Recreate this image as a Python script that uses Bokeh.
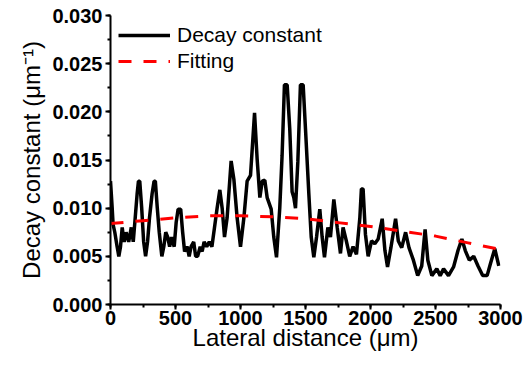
from bokeh.plotting import figure
from bokeh.models import SingleIntervalTicker, PrintfTickFormatter, Legend, LegendItem, Range1d
from bokeh.embed import file_html
from bokeh.resources import INLINE

# Measured decay constant (black line)
dist = [0, 13, 20, 33, 51, 64, 77, 90, 105, 120, 140, 160, 175, 190, 205, 215, 225, 240,
        255, 270, 285, 300, 320, 335, 345, 360, 375, 395, 410, 425, 440, 455, 470, 490,
        505, 520, 540, 555, 570, 590, 605, 620, 640, 655, 670, 690, 705, 720, 740, 760,
        780, 800, 820, 841, 859, 877, 897, 928, 949, 974, 1000, 1026, 1051, 1077, 1108,
        1128, 1149, 1167, 1187, 1205, 1236, 1256, 1277, 1302, 1320, 1338, 1359, 1379,
        1397, 1410, 1423, 1441, 1461, 1482, 1500, 1526, 1544, 1564, 1585, 1610, 1628,
        1646, 1672, 1692, 1718, 1744, 1769, 1789, 1814, 1840, 1866, 1892, 1918, 1930,
        1943, 1961, 1982, 2008, 2033, 2059, 2090, 2111, 2131, 2157, 2193, 2214, 2240,
        2270, 2296, 2330, 2363, 2394, 2420, 2441, 2472, 2510, 2536, 2562, 2600, 2639,
        2673, 2703, 2729, 2760, 2794, 2827, 2863, 2897, 2922, 2956, 2987]
decay = [0.0128, 0.0100, 0.0083, 0.0075, 0.0060, 0.0050, 0.0060, 0.0080, 0.0065, 0.0075,
         0.0065, 0.0080, 0.0065, 0.0090, 0.0115, 0.0128, 0.0128, 0.0100, 0.0065, 0.0050,
         0.0065, 0.0090, 0.0115, 0.0128, 0.0128, 0.0100, 0.0075, 0.0050, 0.0060, 0.0075,
         0.0070, 0.0060, 0.0070, 0.0060, 0.0085, 0.0099, 0.0099, 0.0075, 0.0055, 0.0060,
         0.0050, 0.0060, 0.0065, 0.0050, 0.0050, 0.0060, 0.0055, 0.0065, 0.0060, 0.0065,
         0.0060, 0.0080, 0.0100, 0.0119, 0.0100, 0.0070, 0.0090, 0.0149, 0.0130, 0.0090,
         0.0060, 0.0090, 0.0128, 0.0134, 0.0199, 0.0151, 0.0111, 0.0128, 0.0129, 0.0111,
         0.0099, 0.0070, 0.0049, 0.0100, 0.0155, 0.0228, 0.0228, 0.0182, 0.0117, 0.0111,
         0.0100, 0.0148, 0.0228, 0.0228, 0.0182, 0.0114, 0.0070, 0.0049, 0.0070, 0.0099,
         0.0070, 0.0049, 0.0080, 0.0070, 0.0109, 0.0080, 0.0053, 0.0080, 0.0066, 0.0050,
         0.0060, 0.0052, 0.0090, 0.0120, 0.0120, 0.0073, 0.0050, 0.0066, 0.0063, 0.0068,
         0.0089, 0.0056, 0.0039, 0.0059, 0.0089, 0.0066, 0.0059, 0.0075, 0.0059, 0.0046,
         0.0030, 0.0040, 0.0078, 0.0046, 0.0030, 0.0037, 0.0030, 0.0037, 0.0030, 0.0039,
         0.0056, 0.0068, 0.0056, 0.0046, 0.0050, 0.0040, 0.0030, 0.0030, 0.0042, 0.0058,
         0.0040]

# Fitting curve (red dashed)
fit_x = [0, 250, 500, 750, 1000, 1250, 1500, 1750, 2000, 2250, 2500, 2750, 3000]
fit_y = [0.0084, 0.0087, 0.0090, 0.0092, 0.0092, 0.0091, 0.0089, 0.0085, 0.0081,
         0.0076, 0.0071, 0.0064, 0.0057]

legend_labels = ["Decay constant", "Fitting"]

FONT = "Liberation Sans"

p = figure(width=531, height=369, output_backend="svg", toolbar_location=None,
           x_range=Range1d(0, 3000), y_range=Range1d(0, 0.030),
           min_border_left=110, min_border_right=31, min_border_top=15, min_border_bottom=65)
p.outline_line_color = None
p.xgrid.visible = False
p.ygrid.visible = False
p.background_fill_color = "white"
p.border_fill_color = "white"

r1 = p.line(dist, decay, line_color="black", line_width=3.5)
r2 = p.line(fit_x, fit_y, line_color="#ff0000", line_width=3, line_dash="13 12")

legend = Legend(items=[LegendItem(label=legend_labels[0], renderers=[r1]),
                       LegendItem(label=legend_labels[1], renderers=[r2])],
                location="top_left", border_line_color=None, background_fill_alpha=0,
                label_text_font=FONT, label_text_font_size="21px", label_text_color="black",
                glyph_width=52, glyph_height=20, label_standoff=7,
                spacing=2, padding=10, margin=8)
p.add_layout(legend)

for ax in (p.xaxis[0], p.yaxis[0]):
    ax.axis_line_width = 2
    ax.axis_line_color = "black"
    ax.major_tick_line_width = 2
    ax.minor_tick_line_width = 2
    ax.major_tick_line_color = "black"
    ax.minor_tick_line_color = "black"
    ax.major_tick_out = 5
    ax.major_tick_in = 0
    ax.minor_tick_out = 3
    ax.minor_tick_in = 0
    ax.major_label_text_font = FONT
    ax.major_label_text_font_style = "bold"
    ax.major_label_text_font_size = "20px"
    ax.major_label_text_color = "black"
    ax.axis_label_text_font = FONT
    ax.axis_label_text_font_style = "normal"
    ax.axis_label_text_font_size = "24px"
    ax.axis_label_text_color = "black"

p.xaxis[0].ticker = SingleIntervalTicker(interval=500, num_minor_ticks=2)
p.yaxis[0].ticker = SingleIntervalTicker(interval=0.005, num_minor_ticks=2)
p.yaxis[0].formatter = PrintfTickFormatter(format="%.3f")
p.xaxis[0].axis_label = "Lateral distance (μm)"
p.yaxis[0].axis_label = "Decay constant (μm⁻¹)"
p.xaxis[0].major_label_standoff = 1
p.yaxis[0].major_label_standoff = 3
p.xaxis[0].axis_label_standoff = -4
p.yaxis[0].axis_label_standoff = 4

open("out.html", "w").write(file_html(p, INLINE))
